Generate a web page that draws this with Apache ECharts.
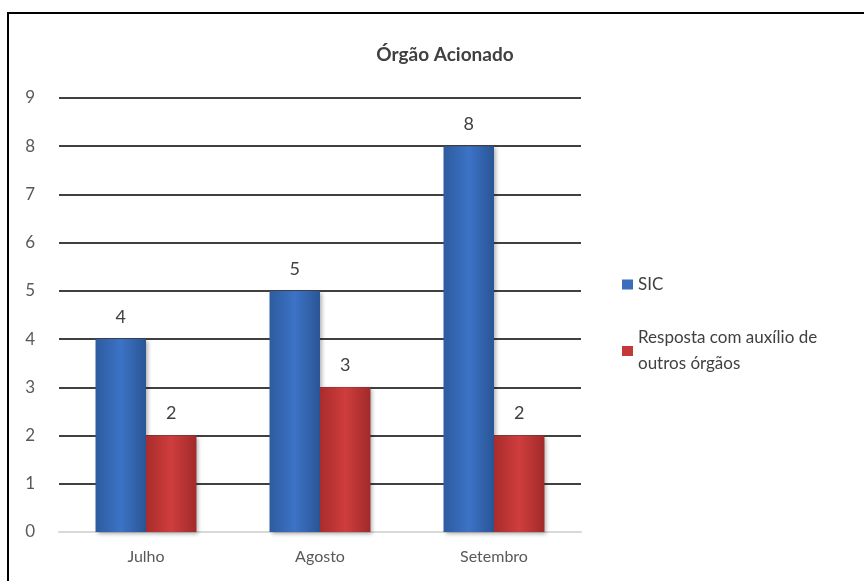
<!DOCTYPE html>
<html>
<head>
<meta charset="utf-8">
<script src="https://cdn.jsdelivr.net/npm/echarts@6/dist/echarts.min.js"></script>
<style>
  html, body { margin: 0; padding: 0; background: #fff; }
  #chart { width: 864px; height: 581px; }
</style>
</head>
<body>
<div id="chart"></div>
<script>
var meses = ['Julho', 'Agosto', 'Setembro'];
var sic = [4, 5, 8];
var outros = [2, 3, 2];
var yTicks = [0, 1, 2, 3, 4, 5, 6, 7, 8, 9];

var FONT = 'Lato';

// gradiente horizontal para imitar o efeito 3D do Excel
function grad(edge, mid, edge2) {
  return new echarts.graphic.LinearGradient(0, 0, 1, 0, [
    { offset: 0, color: edge },
    { offset: 0.5, color: mid },
    { offset: 1, color: edge2 }
  ]);
}

var chart = echarts.init(document.getElementById('chart'), null, { renderer: 'canvas' });

var labelCfg = {
  show: true,
  position: 'top',
  distance: 13,
  fontFamily: FONT,
  fontSize: 18,
  color: '#404040'
};

chart.setOption({
  backgroundColor: '#ffffff',
  animation: false,
  title: {
    text: 'Órgão Acionado',
    left: 440,
    textAlign: 'center',
    top: 40,
    textStyle: { fontFamily: FONT, fontSize: 19, fontWeight: 'bold', color: '#404040' }
  },
  legend: [{
    data: ['SIC'],
    orient: 'vertical',
    left: 622,
    top: 276,
    padding: 0,
    icon: 'rect',
    itemWidth: 11,
    itemHeight: 10,
    itemStyle: { color: '#3a6dbb' },
    textStyle: { fontFamily: FONT, fontSize: 17, color: '#404040' }
  }, {
    data: ['Resposta com auxílio de outros órgãos'],
    orient: 'vertical',
    left: 622,
    top: 312,
    padding: 0,
    icon: 'rect',
    itemWidth: 11,
    itemHeight: 10,
    itemStyle: { color: '#c53838' },
    formatter: function () { return 'Resposta com auxílio de\noutros órgãos'; },
    textStyle: { fontFamily: FONT, fontSize: 17, color: '#404040', lineHeight: 26, padding: [26, 0, 0, 0] }
  }],
  grid: { left: 59, right: 283, top: 98, bottom: 49 },
  xAxis: {
    type: 'category',
    data: meses,
    axisLine: { lineStyle: { color: '#d9d9d9', width: 2 } },
    axisTick: { show: false },
    axisLabel: { fontFamily: FONT, fontSize: 16, color: '#595959', margin: 17 }
  },
  yAxis: {
    type: 'value',
    min: yTicks[0],
    max: yTicks[yTicks.length - 1],
    interval: 1,
    axisLine: { show: false },
    axisTick: { show: false },
    axisLabel: { fontFamily: FONT, fontSize: 17, color: '#595959', margin: 24 },
    splitLine: { lineStyle: { color: '#000000', width: 1.6 } }
  },
  series: [{
    name: 'SIC',
    type: 'bar',
    data: sic,
    barGap: '0%',
    barCategoryGap: '42%',
    itemStyle: {
      color: grad('#2d5b9f', '#3c73c6', '#2a5596'),
      shadowColor: 'rgba(0,0,0,0.3)',
      shadowBlur: 4,
      shadowOffsetX: 2,
      shadowOffsetY: 2
    },
    label: labelCfg
  }, {
    name: 'Resposta com auxílio de outros órgãos',
    type: 'bar',
    data: outros,
    itemStyle: {
      color: grad('#a92c2c', '#cf3d3d', '#a12a2a'),
      shadowColor: 'rgba(0,0,0,0.3)',
      shadowBlur: 4,
      shadowOffsetX: 2,
      shadowOffsetY: 2
    },
    label: labelCfg
  }],
  graphic: [
    { type: 'line', shape: { x1: 7, y1: 13, x2: 864, y2: 13 }, style: { stroke: '#000', lineWidth: 2 } },
    { type: 'line', shape: { x1: 8, y1: 12, x2: 8, y2: 581 }, style: { stroke: '#000', lineWidth: 2 } }
  ]
});
</script>
</body>
</html>
